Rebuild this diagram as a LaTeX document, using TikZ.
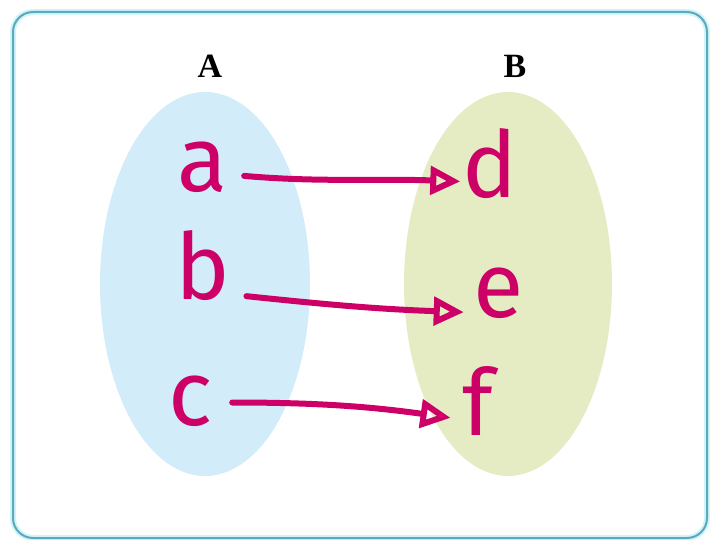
\documentclass[tikz,border=0pt]{standalone}
\usepackage{fontspec}
\setmainfont{Liberation Serif}
\newfontfamily\handfont{Fira Sans}
\usetikzlibrary{arrows.meta}

\definecolor{framecol}{HTML}{5AA9BD}
\definecolor{glowcol}{HTML}{D2F4F8}
\definecolor{setAcol}{HTML}{D3ECF9}
\definecolor{setBcol}{HTML}{E5ECC4}
\definecolor{inkcol}{HTML}{CC0066}

\begin{document}
\begin{tikzpicture}[x=1pt, y=-1pt,
    elem/.style={anchor=base, inner sep=0pt, text height=45pt, text depth=0pt, text=inkcol, font=\handfont\fontsize{92}{92}\selectfont},
    setname/.style={inner sep=0pt, font=\bfseries\fontsize{34}{34}\selectfont},
    maparrow/.style={draw=inkcol, line width=6pt, line cap=round, line join=round, -{Triangle[open, length=30pt, width=28pt]}}]

    \useasboundingbox (0,0) rectangle (710,540);

    % frame
    \draw[glowcol, line width=6pt, rounded corners=20pt] (13,12) rectangle (707,538);
    \draw[framecol, line width=2pt, rounded corners=20pt] (13,12) rectangle (707,538);

    % the two sets
    \fill[setAcol] (205,284) ellipse [x radius=105, y radius=192];
    \fill[setBcol] (508,284) ellipse [x radius=104, y radius=192];
    \node[setname] (nameA) at (210,66) {A};
    \node[setname] (nameB) at (515,66) {B};

    % elements
    \node[elem] (a) at (203,192) {a};
    \node[elem] (b) at (203,300) {b};
    \node[elem] (c) at (190,425) {c};
    \node[elem] (d) at (490,198) {d};
    \node[elem] (e) at (499,317) {e};
    \node[elem] (f) at (478,435) {f};

    % mapping
    \draw[maparrow, shorten <=16pt, shorten >=2pt] ([yshift=-5pt]a.east) to[out=-5, in=178] ([yshift=-6pt]d.west);
    \draw[maparrow, shorten <=16pt, shorten >=10pt] ([yshift=-17pt]b.east) to[out=-6, in=178] ([yshift=-18pt]e.west);
    \draw[maparrow, shorten <=20pt, shorten >=12pt] (c.east) to[out=0, in=172] ([yshift=-7pt]f.west);
\end{tikzpicture}
\end{document}
